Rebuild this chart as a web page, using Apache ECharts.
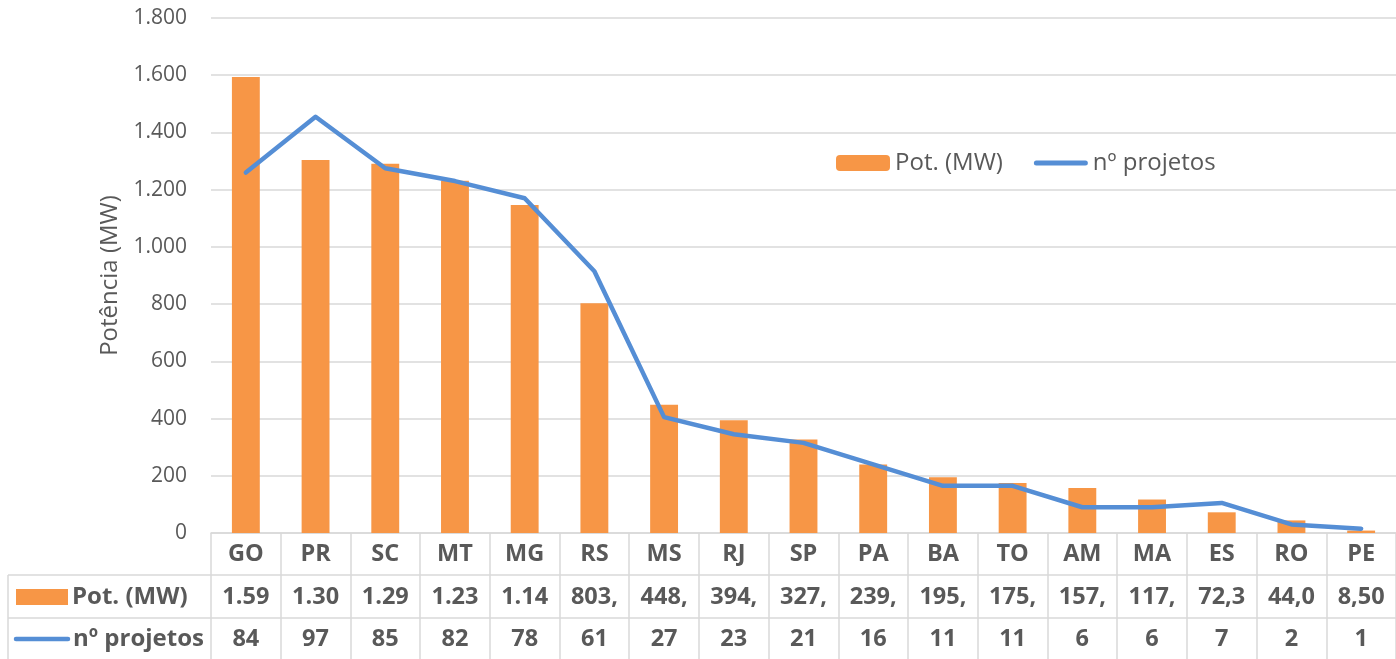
<!DOCTYPE html>
<html>
<head>
<meta charset="utf-8">
<script src="https://cdn.jsdelivr.net/npm/echarts@6/dist/echarts.min.js"></script>
<style>
html,body{margin:0;padding:0;background:#fff;}
#chart{width:1396px;height:659px;}
</style>
</head>
<body>
<div id="chart"></div>
<script>
const categories = ['GO','PR','SC','MT','MG','RS','MS','RJ','SP','PA','BA','TO','AM','MA','ES','RO','PE'];
const potencia = [1594, 1304, 1291, 1231, 1146, 803, 448, 394, 327, 239, 195, 175, 157, 117, 72.3, 44.0, 8.5];
const projetos = [84, 97, 85, 82, 78, 61, 27, 23, 21, 16, 11, 11, 6, 6, 7, 2, 1];
const potenciaTabela = ['1.59','1.30','1.29','1.23','1.14','803,','448,','394,','327,','239,','195,','175,','157,','117,','72,3','44,0','8,50'];
const projetosTabela = projetos.map(String);
const seriesNames = ['Pot. (MW)', 'nº projetos'];

const FONT = '"Open Sans"';
const TXT = '#595959';
const GRID = '#d9d9d9';
const ORANGE = '#F79646';
const BLUE = '#558ED5';

const chart = echarts.init(document.getElementById('chart'));

function fmtThousands(v){
  return String(v).replace(/\B(?=(\d{3})+(?!\d))/g, '.');
}

const tableLabel = {
  interval: 0, color: TXT, fontFamily: FONT, fontWeight: 'bold', fontSize: 23.5, margin: 9, lineHeight: 24
};

chart.setOption({
  animation: false,
  textStyle: { fontFamily: FONT },
  grid: { left: 211, right: -8, top: 18, bottom: 126, containLabel: false },
  legend: {
    left: 831, top: 146,
    itemWidth: 54, itemHeight: 16, itemGap: 31,
    textStyle: { color: TXT, fontSize: 24, fontFamily: FONT },
    data: [
      { name: seriesNames[0] },
      { name: seriesNames[1], icon: 'path://M2.5,0 L51.5,0 A2.5,2.5 0 0 1 51.5,5 L2.5,5 A2.5,2.5 0 0 1 2.5,0 Z' }
    ]
  },
  xAxis: [
    {
      type: 'category', data: categories, position: 'bottom',
      axisLine: { show: true, lineStyle: { color: GRID, width: 1.5 } },
      axisTick: { show: true, length: 126, lineStyle: { color: GRID, width: 1.5 } },
      axisLabel: Object.assign({}, tableLabel),
      splitLine: { show: false }
    },
    {
      type: 'category', data: potenciaTabela, position: 'bottom', offset: 43,
      axisLine: { show: false }, axisTick: { show: false },
      axisLabel: Object.assign({}, tableLabel)
    },
    {
      type: 'category', data: projetosTabela, position: 'bottom', offset: 85,
      axisLine: { show: false }, axisTick: { show: false },
      axisLabel: Object.assign({}, tableLabel)
    }
  ],
  yAxis: [
    {
      type: 'value', min: 0, max: 1800, interval: 200,
      name: 'Potência (MW)', nameLocation: 'middle', nameGap: 88, nameRotate: 90,
      nameTextStyle: { color: TXT, fontSize: 24, fontFamily: FONT },
      axisLine: { show: false }, axisTick: { show: false },
      axisLabel: { color: TXT, fontSize: 21, fontFamily: FONT, margin: 24, formatter: fmtThousands },
      splitLine: { lineStyle: { color: GRID, width: 1.5 } }
    },
    {
      type: 'value', min: 0, max: 120, show: false,
      splitLine: { show: false }
    }
  ],
  series: [
    {
      name: seriesNames[0], type: 'bar', data: potencia,
      xAxisIndex: 0, yAxisIndex: 0, barWidth: '40%',
      itemStyle: { color: ORANGE }
    },
    {
      name: seriesNames[1], type: 'line', data: projetos,
      xAxisIndex: 0, yAxisIndex: 1, symbol: 'none',
      lineStyle: { color: BLUE, width: 4.5, cap: 'round', join: 'round' },
      itemStyle: { color: BLUE }
    }
  ],
  graphic: [
    { type: 'line', shape: { x1: 8, y1: 575, x2: 1396, y2: 575 }, style: { stroke: GRID, lineWidth: 1.5 } },
    { type: 'line', shape: { x1: 8, y1: 618, x2: 1396, y2: 618 }, style: { stroke: GRID, lineWidth: 1.5 } },
    { type: 'line', shape: { x1: 8, y1: 575, x2: 8, y2: 659 }, style: { stroke: GRID, lineWidth: 1.5 } },
    { type: 'rect', shape: { x: 16, y: 589, width: 52, height: 16 }, style: { fill: ORANGE } },
    { type: 'text', style: { x: 72, y: 597, text: seriesNames[0], fill: TXT, font: 'bold 24px ' + FONT, verticalAlign: 'middle' } },
    { type: 'line', shape: { x1: 16, y1: 639, x2: 68, y2: 639 }, style: { stroke: BLUE, lineWidth: 4.5, lineCap: 'round' } },
    { type: 'text', style: { x: 73, y: 639, text: seriesNames[1], fill: TXT, font: 'bold 24px ' + FONT, verticalAlign: 'middle' } }
  ]
});
</script>
</body>
</html>
